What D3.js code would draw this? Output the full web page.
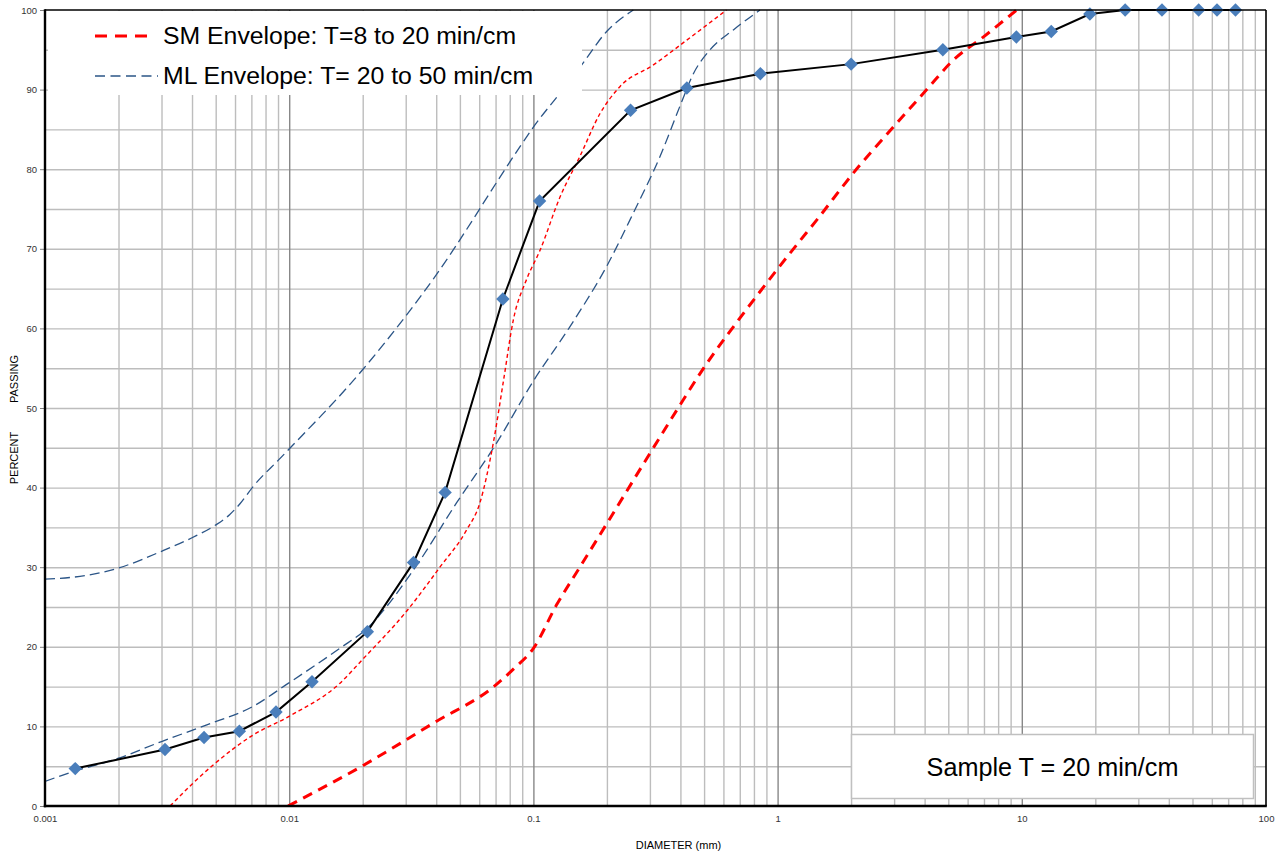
<!DOCTYPE html>
<html>
<head>
<meta charset="utf-8">
<script src="https://cdn.jsdelivr.net/npm/d3@7"></script>
<style>
  html, body { margin: 0; padding: 0; background: #fff; }
  svg { display: block; }
</style>
</head>
<body>
<svg id="chart" width="1277" height="853"></svg>
<script>
// ---------------- DATA ----------------
const sampleDiam = [0.00133, 0.0031, 0.00448, 0.00625, 0.00883, 0.0124, 0.0209, 0.0323, 0.0435, 0.075, 0.106, 0.25, 0.425, 0.85, 2.0, 4.75, 9.5, 13.2, 19, 26.5, 37.5, 53, 63, 75];
const samplePct  = [4.7, 7.1, 8.6, 9.4, 11.8, 15.6, 21.9, 30.6, 39.4, 63.7, 76.0, 87.4, 90.2, 92.0, 93.2, 95.0, 96.6, 97.3, 99.5, 100, 100, 100, 100, 100];

// SM envelope, heavy (coarse) bound
const smHeavyDiam = [0.0099, 0.0201, 0.0389, 0.0708, 0.0828, 0.1, 0.1246, 0.155, 0.2, 0.3, 0.386, 0.513, 0.659, 0.902, 1.197, 1.445, 2.04, 2.98, 4.08, 5.24, 6.95, 9.53];
const smHeavyPct  = [0, 5.1, 10.4, 15.3, 17.2, 19.8, 25.3, 30.0, 35.5, 44.3, 49.7, 55.6, 60.2, 65.7, 70.5, 73.6, 79.5, 85.3, 90.0, 93.7, 96.6, 100];

// SM envelope, light (fine) bound
const smLightDiam = [0.00325, 0.0049, 0.0071, 0.0099, 0.0161, 0.0201, 0.0303, 0.0414, 0.0533, 0.0604, 0.0686, 0.0754, 0.0828, 0.0939, 0.1064, 0.1285, 0.155, 0.1875, 0.2265, 0.31, 0.424, 0.618];
const smLightPct  = [0, 5.2, 8.9, 11.2, 15.4, 18.5, 24.5, 30.0, 34.7, 38.1, 45.7, 53.4, 61.1, 66.2, 69.8, 76.5, 81.6, 87.0, 90.4, 93.1, 96.2, 100];

// ML envelope, upper bound
const mlUpperDiam = [0.001, 0.0015, 0.002, 0.003, 0.004, 0.005, 0.0057, 0.0063, 0.0071, 0.0092, 0.0201, 0.0389, 0.088, 0.1, 0.1265, 0.1577, 0.1995, 0.2566];
const mlUpperPct  = [28.5, 29.0, 29.9, 32.0, 33.7, 35.3, 36.6, 38.0, 40.1, 43.7, 54.9, 66.2, 82.8, 85.3, 89.3, 93.1, 97.3, 100];

// ML envelope, lower bound
const mlLowerDiam = [0.001, 0.0013, 0.002, 0.003, 0.0046, 0.0071, 0.0099, 0.0161, 0.0208, 0.0322, 0.0485, 0.0697, 0.1, 0.141, 0.1995, 0.2566, 0.33, 0.398, 0.452, 0.529, 0.659, 0.847];
const mlLowerPct  = [3.1, 4.3, 6.0, 8.1, 10.2, 12.5, 15.4, 19.8, 22.3, 29.6, 38.1, 45.3, 53.4, 60.2, 67.8, 74.5, 81.6, 87.9, 92.0, 95.0, 97.5, 100];

const xTickValues = [0.001, 0.01, 0.1, 1, 10, 100];
const xTickLabels = ["0.001", "0.01", "0.1", "1", "10", "100"];
const yTickValues = [0, 10, 20, 30, 40, 50, 60, 70, 80, 90, 100];
const yGridValues = [5, 10, 15, 20, 25, 30, 35, 40, 45, 50, 55, 60, 65, 70, 75, 80, 85, 90, 95];

const legendLabels = ["SM Envelope: T=8 to 20 min/cm", "ML Envelope: T= 20 to 50 min/cm"];
const xTitle = "DIAMETER (mm)";
const yTitleParts = ["PERCENT", "PASSING"];
const noteText = "Sample T = 20 min/cm";

// ---------------- LAYOUT ----------------
const FONT = "'Liberation Sans', Arial, Helvetica, sans-serif";
const L = 45, R = 1266, T = 10, B = 806;
const svg = d3.select("#chart");

const x = d3.scaleLog().domain([0.001, 100]).range([L, R]);
const y = d3.scaleLinear().domain([0, 100]).range([B, T]);

const zip = (a, b) => a.map((d, i) => [d, b[i]]);

// ---------------- GRID ----------------
const allLogTicks = x.ticks(); // 1..9 per decade
const minorX = allLogTicks.filter(v => {
  const m = v / Math.pow(10, Math.floor(Math.log10(v) + 1e-9));
  return Math.round(m) !== 1;
});
const majorX = [0.01, 0.1, 1, 10];

const grid = svg.append("g");
grid.append("g")
  .attr("transform", `translate(0,${B})`)
  .call(d3.axisBottom(x).tickValues(minorX).tickSize(-(B - T)).tickFormat(""))
  .call(g => g.select(".domain").remove())
  .call(g => g.selectAll("line").attr("stroke", "#bdbdbd").attr("stroke-width", 1.4));
grid.append("g")
  .attr("transform", `translate(${L},0)`)
  .call(d3.axisLeft(y).tickValues(yGridValues).tickSize(-(R - L)).tickFormat(""))
  .call(g => g.select(".domain").remove())
  .call(g => g.selectAll("line").attr("stroke", "#bdbdbd").attr("stroke-width", 1.4));
grid.append("g")
  .attr("transform", `translate(0,${B})`)
  .call(d3.axisBottom(x).tickValues(majorX).tickSize(-(B - T)).tickFormat(""))
  .call(g => g.select(".domain").remove())
  .call(g => g.selectAll("line").attr("stroke", "#888888").attr("stroke-width", 1.4));

// ---------------- CLIP ----------------
svg.append("clipPath").attr("id", "plotclip")
  .append("rect").attr("x", L).attr("y", T - 1).attr("width", R - L).attr("height", B - T + 2);

const plot = svg.append("g").attr("clip-path", "url(#plotclip)");
const smooth = d3.line().x(d => x(d[0])).y(d => y(d[1])).curve(d3.curveMonotoneX);
const straight = d3.line().x(d => x(d[0])).y(d => y(d[1]));

const blue = "#2b5587";
plot.append("path").datum(zip(mlUpperDiam, mlUpperPct))
  .attr("d", smooth).attr("fill", "none").attr("stroke", blue)
  .attr("stroke-width", 1.3).attr("stroke-dasharray", "10,5");
plot.append("path").datum(zip(mlLowerDiam, mlLowerPct))
  .attr("d", smooth).attr("fill", "none").attr("stroke", blue)
  .attr("stroke-width", 1.3).attr("stroke-dasharray", "10,5");
plot.append("path").datum(zip(smLightDiam, smLightPct))
  .attr("d", smooth).attr("fill", "none").attr("stroke", "#ff0000")
  .attr("stroke-width", 1.4).attr("stroke-dasharray", "4,3");
plot.append("path").datum(zip(smHeavyDiam, smHeavyPct))
  .attr("d", smooth).attr("fill", "none").attr("stroke", "#ff0000")
  .attr("stroke-width", 3).attr("stroke-dasharray", "10,7");

plot.append("path").datum(zip(sampleDiam, samplePct))
  .attr("d", straight).attr("fill", "none").attr("stroke", "#000")
  .attr("stroke-width", 2);

svg.append("g").selectAll("path")
  .data(zip(sampleDiam, samplePct))
  .join("path")
  .attr("d", d3.symbol(d3.symbolSquare, 90))
  .attr("transform", d => `translate(${x(d[0])},${y(d[1])}) rotate(45)`)
  .attr("fill", "#4a7ebb");

// ---------------- LEGEND ----------------
const leg = svg.append("g");
leg.append("rect").attr("x", 48).attr("y", 11).attr("width", 534).attr("height", 84).attr("fill", "#fff");
leg.append("line").attr("x1", 95).attr("x2", 148).attr("y1", 36).attr("y2", 36)
  .attr("stroke", "#ff0000").attr("stroke-width", 3).attr("stroke-dasharray", "12,8");
leg.append("line").attr("x1", 95).attr("x2", 158).attr("y1", 76).attr("y2", 76)
  .attr("stroke", blue).attr("stroke-width", 1.4).attr("stroke-dasharray", "10,5.5");
leg.selectAll("text.lg").data(legendLabels).join("text")
  .attr("class", "lg")
  .attr("x", 163).attr("y", (d, i) => 44 + i * 40)
  .attr("font-family", FONT).attr("font-size", 24.8).attr("fill", "#000")
  .text(d => d);

// ---------------- NOTE BOX ----------------
svg.append("rect").attr("x", 851.5).attr("y", 734.5).attr("width", 402).attr("height", 64)
  .attr("fill", "#fff").attr("stroke", "#c0c0c0").attr("stroke-width", 1.5);
svg.append("text").attr("x", 1052.5).attr("y", 776)
  .attr("text-anchor", "middle").attr("font-family", FONT).attr("font-size", 25.2).attr("fill", "#000")
  .text(noteText);

// ---------------- AXES ----------------
const yAxis = svg.append("g").attr("transform", `translate(${L},0)`)
  .call(d3.axisLeft(y).tickValues(yTickValues).tickSize(5).tickPadding(3).tickFormat(d3.format("d")));
yAxis.select(".domain").remove();
yAxis.selectAll("line").attr("stroke", "#808080").attr("stroke-width", 1);
yAxis.selectAll("text").attr("font-family", FONT).attr("font-size", 9.5).attr("fill", "#333");

const xAxis = svg.append("g").attr("transform", `translate(0,${B})`)
  .call(d3.axisBottom(x).tickValues(xTickValues).tickSize(0).tickPadding(9)
    .tickFormat((d, i) => xTickLabels[i]));
xAxis.select(".domain").remove();
xAxis.selectAll("text").attr("font-family", FONT).attr("font-size", 9.5).attr("fill", "#333");

// plot frame
svg.append("line").attr("x1", L).attr("x2", R).attr("y1", T).attr("y2", T).attr("stroke", "#000").attr("stroke-width", 1.6);
svg.append("line").attr("x1", R).attr("x2", R).attr("y1", T).attr("y2", B).attr("stroke", "#000").attr("stroke-width", 1.6);
svg.append("line").attr("x1", L).attr("x2", L).attr("y1", T - 0.8).attr("y2", B + 1.2).attr("stroke", "#000").attr("stroke-width", 2.4);
svg.append("line").attr("x1", L - 1.2).attr("x2", R + 0.8).attr("y1", B).attr("y2", B).attr("stroke", "#000").attr("stroke-width", 2.4);

// titles
svg.append("text").attr("x", 678.5).attr("y", 849)
  .attr("text-anchor", "middle").attr("font-family", FONT).attr("font-size", 11).attr("fill", "#000")
  .text(xTitle);
svg.selectAll("text.yt").data(yTitleParts).join("text")
  .attr("class", "yt")
  .attr("transform", (d, i) => `translate(18,${i === 0 ? 458 : 379}) rotate(-90)`)
  .attr("text-anchor", "middle").attr("font-family", FONT).attr("font-size", 11).attr("fill", "#000")
  .text(d => d);
</script>
</body>
</html>
